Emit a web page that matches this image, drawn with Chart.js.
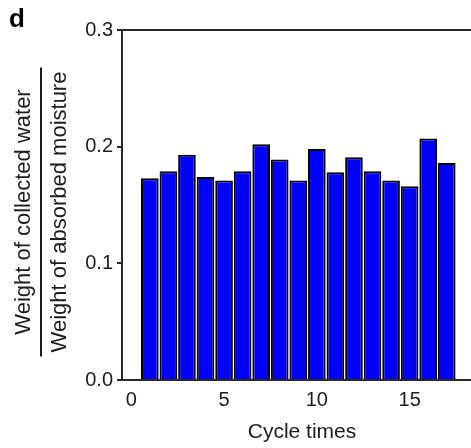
<!DOCTYPE html>
<html><head><meta charset="utf-8">
<script src="https://cdn.jsdelivr.net/npm/chart.js@4"></script>
<style>html,body{margin:0;padding:0;background:#fff;overflow:hidden}#wrap{position:relative;width:482px;height:448px}</style>
</head><body><div id="wrap"><canvas id="c"></canvas></div>
<script>
const cycles = [1, 2, 3, 4, 5, 6, 7, 8, 9, 10, 11, 12, 13, 14, 15, 16, 17];
const ratios = [0.173, 0.179, 0.193, 0.174, 0.171, 0.179, 0.202, 0.189, 0.171, 0.198, 0.178, 0.191, 0.179, 0.171, 0.166, 0.207, 0.186];
const xTicks = [0, 5, 10, 15];
const yTicks = [0, 0.1, 0.2, 0.3];
const yTitleTop = 'Weight of collected water';
const yTitleBottom = 'Weight of absorbed moisture';
const xTitle = 'Cycle times';
const panelLabel = 'd';

const FONT = '"Liberation Sans", Arial, Helvetica, sans-serif';
const TXT = '#1c1c1c';
const AXIS = '#2a2a2a';

const extras = {
  id: 'extras',
  afterDraw(chart) {
    const ctx = chart.ctx, a = chart.chartArea;
    ctx.save();
    ctx.strokeStyle = AXIS; ctx.lineWidth = 2;
    ctx.beginPath(); ctx.moveTo(a.left - 1, a.top); ctx.lineTo(a.right, a.top); ctx.stroke();
    ctx.fillStyle = '#000';
    ctx.font = 'bold 26px ' + FONT;
    ctx.textAlign = 'left'; ctx.textBaseline = 'alphabetic';
    ctx.fillText(panelLabel, 9, 27);
    const cy = (a.top + a.bottom) / 2 + 7;
    ctx.font = '22px ' + FONT;
    ctx.fillStyle = TXT;
    ctx.textAlign = 'center'; ctx.textBaseline = 'middle';
    const w = Math.max(ctx.measureText(yTitleTop).width, ctx.measureText(yTitleBottom).width) + 8;
    ctx.save(); ctx.translate(24, cy); ctx.rotate(-Math.PI / 2); ctx.fillText(yTitleTop, 0, 0); ctx.restore();
    ctx.save(); ctx.translate(60, cy); ctx.rotate(-Math.PI / 2); ctx.fillText(yTitleBottom, 0, 0); ctx.restore();
    ctx.strokeStyle = TXT; ctx.lineWidth = 2;
    ctx.beginPath(); ctx.moveTo(41, cy - w / 2); ctx.lineTo(41, cy + w / 2); ctx.stroke();
    ctx.restore();
  }
};

new Chart(document.getElementById('c'), {
  type: 'bar',
  data: {
    datasets: [{
      data: cycles.map((c, i) => ({ x: c, y: ratios[i] })),
      backgroundColor: '#0000ff',
      borderColor: '#000000',
      borderWidth: 2,
      borderSkipped: 'start',
      barPercentage: 0.95,
      categoryPercentage: 1
    }]
  },
  options: {
    responsive: true,
    maintainAspectRatio: false,
    animation: false,
    layout: { padding: { top: 30, left: 0, right: 0, bottom: 0 } },
    plugins: { legend: { display: false }, tooltip: { enabled: false } },
    scales: {
      x: {
        type: 'linear',
        offset: false,
        min: -0.5, max: 18.9,
        afterBuildTicks: s => { s.ticks = xTicks.map(v => ({ value: v })); },
        afterFit: s => { s.height = 68; },
        grid: { display: false, drawTicks: false, offset: false },
        border: { display: true, color: AXIS, width: 2 },
        ticks: { padding: 8, color: TXT, font: { family: FONT, size: 20 }, maxRotation: 0 },
        title: { display: true, text: xTitle, color: TXT, font: { family: FONT, size: 21 }, padding: { top: 0, bottom: 3 } }
      },
      y: {
        min: 0, max: 0.3,
        afterBuildTicks: s => { s.ticks = yTicks.map(v => ({ value: v })); },
        afterFit: s => { s.width = 122; },
        grid: { drawOnChartArea: false, drawTicks: true, tickLength: 5, color: AXIS, lineWidth: 2 },
        border: { display: true, color: AXIS, width: 2 },
        ticks: { padding: 4, color: TXT, font: { family: FONT, size: 20 }, callback: v => v.toFixed(1) }
      }
    }
  },
  plugins: [extras]
});
</script></body></html>
